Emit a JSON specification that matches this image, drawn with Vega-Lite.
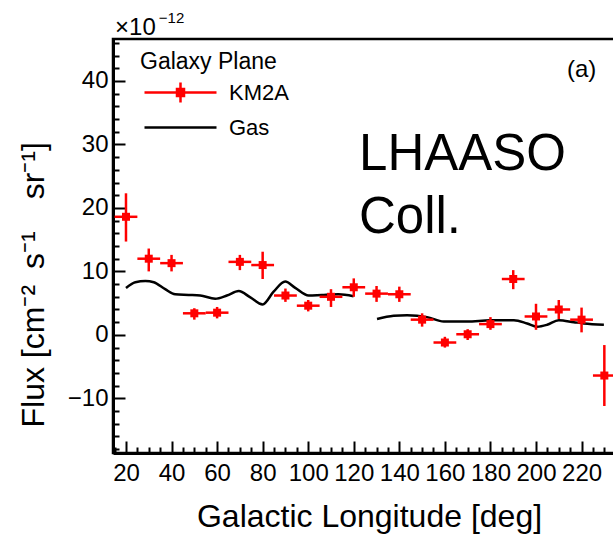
{
  "$schema": "https://vega.github.io/schema/vega-lite/v6.json",
  "width": 502,
  "height": 414,
  "autosize": {"type": "none"},
  "padding": {"left": 113, "top": 39, "right": 0, "bottom": 83},
  "background": "white",
  "config": {
    "font": "Liberation Sans",
    "view": {"stroke": "black", "strokeWidth": 2.5},
    "axis": {"grid": false, "domainColor": "black", "domainWidth": 3, "tickColor": "black", "tickWidth": 2, "labelColor": "black", "labelFontSize": 24, "labelFont": "Liberation Sans", "titleColor": "black", "titleFontWeight": "normal", "titleFont": "Liberation Sans", "labelOverlap": false, "labelFlush": false}
  },
  "resolve": {"axis": {"x": "independent", "y": "independent"}},
  "datasets": {
    "km2a": [
      {"s": "KM2A", "l": 20, "lo": 15, "hi": 25, "f": 18.6, "flo": 14.7, "fhi": 22.3},
      {"s": "KM2A", "l": 30, "lo": 25, "hi": 35, "f": 12.0, "flo": 10.0, "fhi": 13.6},
      {"s": "KM2A", "l": 40, "lo": 35, "hi": 45, "f": 11.3, "flo": 10.0, "fhi": 12.6},
      {"s": "KM2A", "l": 50, "lo": 45, "hi": 55, "f": 3.4, "flo": 2.4, "fhi": 4.2},
      {"s": "KM2A", "l": 60, "lo": 55, "hi": 65, "f": 3.5, "flo": 2.6, "fhi": 4.4},
      {"s": "KM2A", "l": 70, "lo": 65, "hi": 75, "f": 11.5, "flo": 10.2, "fhi": 12.6},
      {"s": "KM2A", "l": 80, "lo": 75, "hi": 85, "f": 11.0, "flo": 8.8, "fhi": 13.1},
      {"s": "KM2A", "l": 90, "lo": 85, "hi": 95, "f": 6.2, "flo": 5.2, "fhi": 7.3},
      {"s": "KM2A", "l": 100, "lo": 95, "hi": 105, "f": 4.6, "flo": 3.7, "fhi": 5.5},
      {"s": "KM2A", "l": 110, "lo": 105, "hi": 115, "f": 6.0, "flo": 4.4, "fhi": 7.2},
      {"s": "KM2A", "l": 120, "lo": 115, "hi": 125, "f": 7.5, "flo": 6.0, "fhi": 8.9},
      {"s": "KM2A", "l": 130, "lo": 125, "hi": 135, "f": 6.5, "flo": 5.2, "fhi": 7.7},
      {"s": "KM2A", "l": 140, "lo": 135, "hi": 145, "f": 6.4, "flo": 5.2, "fhi": 7.6},
      {"s": "KM2A", "l": 150, "lo": 145, "hi": 155, "f": 2.4, "flo": 1.3, "fhi": 3.4},
      {"s": "KM2A", "l": 160, "lo": 155, "hi": 165, "f": -1.2, "flo": -2.0, "fhi": -0.3},
      {"s": "KM2A", "l": 170, "lo": 165, "hi": 175, "f": 0.1, "flo": -0.8, "fhi": 0.9},
      {"s": "KM2A", "l": 180, "lo": 175, "hi": 185, "f": 1.7, "flo": 0.8, "fhi": 2.8},
      {"s": "KM2A", "l": 190, "lo": 185, "hi": 195, "f": 8.8, "flo": 7.2, "fhi": 10.2},
      {"s": "KM2A", "l": 200, "lo": 195, "hi": 205, "f": 2.9, "flo": 0.8, "fhi": 4.9},
      {"s": "KM2A", "l": 210, "lo": 205, "hi": 215, "f": 4.0, "flo": 2.5, "fhi": 5.5},
      {"s": "KM2A", "l": 220, "lo": 215, "hi": 225, "f": 2.4, "flo": 0.4, "fhi": 4.3},
      {"s": "KM2A", "l": 230, "lo": 225, "hi": 235, "f": -6.4, "flo": -11.2, "fhi": -1.6}
    ],
    "gas": [
      {"s": "Gas", "seg": 1, "l": 20.0, "f": 7.4},
      {"s": "Gas", "seg": 1, "l": 24.1, "f": 8.3},
      {"s": "Gas", "seg": 1, "l": 28.5, "f": 8.5},
      {"s": "Gas", "seg": 1, "l": 32.2, "f": 8.3},
      {"s": "Gas", "seg": 1, "l": 37.2, "f": 7.2},
      {"s": "Gas", "seg": 1, "l": 41.6, "f": 6.4},
      {"s": "Gas", "seg": 1, "l": 47.5, "f": 6.3},
      {"s": "Gas", "seg": 1, "l": 52.6, "f": 6.2},
      {"s": "Gas", "seg": 1, "l": 59.2, "f": 5.7},
      {"s": "Gas", "seg": 1, "l": 64.3, "f": 6.2},
      {"s": "Gas", "seg": 1, "l": 69.5, "f": 6.9},
      {"s": "Gas", "seg": 1, "l": 74.6, "f": 5.9},
      {"s": "Gas", "seg": 1, "l": 80.0, "f": 4.8},
      {"s": "Gas", "seg": 1, "l": 84.8, "f": 6.8},
      {"s": "Gas", "seg": 1, "l": 89.9, "f": 8.4},
      {"s": "Gas", "seg": 1, "l": 94.3, "f": 7.4},
      {"s": "Gas", "seg": 1, "l": 100.2, "f": 6.2},
      {"s": "Gas", "seg": 1, "l": 106.0, "f": 6.3},
      {"s": "Gas", "seg": 1, "l": 113.3, "f": 6.4},
      {"s": "Gas", "seg": 1, "l": 119.9, "f": 6.1},
      {"s": "Gas", "seg": 2, "l": 130.2, "f": 2.5},
      {"s": "Gas", "seg": 2, "l": 137.5, "f": 3.0},
      {"s": "Gas", "seg": 2, "l": 143.4, "f": 3.1},
      {"s": "Gas", "seg": 2, "l": 152.2, "f": 2.8},
      {"s": "Gas", "seg": 2, "l": 159.5, "f": 2.1},
      {"s": "Gas", "seg": 2, "l": 169.8, "f": 2.1},
      {"s": "Gas", "seg": 2, "l": 180.0, "f": 2.3},
      {"s": "Gas", "seg": 2, "l": 190.3, "f": 2.3},
      {"s": "Gas", "seg": 2, "l": 196.1, "f": 1.8},
      {"s": "Gas", "seg": 2, "l": 200.5, "f": 1.3},
      {"s": "Gas", "seg": 2, "l": 204.9, "f": 1.6},
      {"s": "Gas", "seg": 2, "l": 210.0, "f": 2.3},
      {"s": "Gas", "seg": 2, "l": 216.6, "f": 2.0},
      {"s": "Gas", "seg": 2, "l": 221.0, "f": 1.8},
      {"s": "Gas", "seg": 2, "l": 229.8, "f": 1.6}
    ],
    "big": [
      {"t": "LHAASO", "l": 122.3, "f": 26.0},
      {"t": "Coll.", "l": 122.3, "f": 16.0}
    ],
    "panel": [
      {"t": "(a)", "l": 213.6, "f": 40.6}
    ],
    "expbase": [
      {"t": "×10", "l": 15.2, "f": 47.2}
    ],
    "expsup": [
      {"t": "−12", "l": 34.4, "f": 49.1}
    ]
  },
  "layer": [
    {
      "data": {"name": "gas"},
      "mark": {"type": "line", "interpolate": "monotone", "strokeWidth": 2.5, "clip": true},
      "encoding": {
        "x": {
          "field": "l", "type": "quantitative",
          "scale": {"domain": [14.3, 234.68], "nice": false, "zero": false},
          "axis": {
            "orient": "bottom",
            "title": "Galactic Longitude [deg]",
            "titleFontSize": 32,
            "titleX": 256, "titleY": 73, "titleAlign": "center", "titleBaseline": "alphabetic",
            "values": [20, 40, 60, 80, 100, 120, 140, 160, 180, 200, 220],
            "labelPadding": 20,
            "tickSize": -12
          }
        },
        "y": {
          "field": "f", "type": "quantitative",
          "scale": {"domain": [-18.6, 46.6], "nice": false, "zero": false},
          "axis": {
            "orient": "left",
            "title": "Flux [cm⁻²\u2002s⁻¹\u2003sr⁻¹]",
            "titleFontSize": 32,
            "titleX": -70, "titleY": 388, "titleAngle": 270, "titleAlign": "left", "titleBaseline": "alphabetic",
            "values": [-10, 0, 10, 20, 30, 40],
            "labelPadding": 17,
            "tickSize": -12
          }
        },
        "detail": {"field": "seg", "type": "nominal"},
        "color": {
          "field": "s", "type": "nominal",
          "scale": {"domain": ["KM2A", "Gas"], "range": ["#ff0000", "#000000"]},
          "legend": {
            "orient": "none", "legendX": 27, "legendY": 12,
            "title": "Galaxy Plane", "titleFontSize": 23, "titleFontWeight": "normal", "titleColor": "black", "titlePadding": 7,
            "labelFontSize": 22, "labelColor": "black",
            "padding": 0,
            "symbolSize": 400, "symbolOffset": 29, "labelOffset": 37, "rowPadding": 8,
            "symbolStrokeWidth": 2.5,
            "encode": {
              "symbols": {
                "update": {
                  "shape": {"signal": "datum.value === 'KM2A' ? 'M-3.6,0H3.6M0,-1V1M-0.35,-0.35H0.35V0.35H-0.35Z' : 'M-3.6,0H3.6'"},
                  "fill": {"signal": "datum.value === 'KM2A' ? '#ff0000' : 'transparent'"},
                  "strokeWidth": {"value": 2.5},
                  "opacity": {"value": 1}
                }
              }
            }
          }
        }
      }
    },
    {
      "data": {"name": "km2a"},
      "mark": {"type": "rule", "strokeWidth": 2.5, "clip": true},
      "encoding": {
        "x": {
          "field": "lo", "type": "quantitative",
          "axis": {
            "orient": "bottom", "title": null, "labels": false, "domain": false,
            "values": [15,25,30,35,45,50,55,65,70,75,85,90,95,105,110,115,125,130,135,145,150,155,165,170,175,185,190,195,205,210,215,225,230],
            "tickSize": -6
          }
        },
        "x2": {"field": "hi"},
        "y": {
          "field": "f", "type": "quantitative",
          "axis": {
            "orient": "left", "title": null, "labels": false, "domain": false,
            "values": [-18,-16,-14,-12,-8,-6,-4,-2,2,4,6,8,12,14,16,18,22,24,26,28,32,34,36,38,42,44,46],
            "tickSize": -6
          }
        },
        "color": {"field": "s", "type": "nominal"}
      }
    },
    {
      "data": {"name": "km2a"},
      "mark": {"type": "rule", "strokeWidth": 2.5, "clip": true},
      "encoding": {
        "x": {"field": "l", "type": "quantitative", "axis": null},
        "y": {"field": "flo", "type": "quantitative", "axis": null},
        "y2": {"field": "fhi"},
        "color": {"field": "s", "type": "nominal"}
      }
    },
    {
      "data": {"name": "km2a"},
      "mark": {"type": "square", "filled": true, "size": 64, "opacity": 1, "clip": true},
      "encoding": {
        "x": {"field": "l", "type": "quantitative", "axis": null},
        "y": {"field": "f", "type": "quantitative", "axis": null},
        "color": {"field": "s", "type": "nominal"}
      }
    },
    {
      "data": {"name": "big"},
      "mark": {"type": "text", "fontSize": 51, "align": "left", "baseline": "alphabetic", "color": "black", "font": "Liberation Sans"},
      "encoding": {
        "x": {"field": "l", "type": "quantitative", "axis": null},
        "y": {"field": "f", "type": "quantitative", "axis": null},
        "text": {"field": "t"}
      }
    },
    {
      "data": {"name": "panel"},
      "mark": {"type": "text", "fontSize": 24, "align": "left", "baseline": "alphabetic", "color": "black", "font": "Liberation Sans"},
      "encoding": {
        "x": {"field": "l", "type": "quantitative", "axis": null},
        "y": {"field": "f", "type": "quantitative", "axis": null},
        "text": {"field": "t"}
      }
    },
    {
      "data": {"name": "expbase"},
      "mark": {"type": "text", "fontSize": 24, "align": "left", "baseline": "alphabetic", "color": "black", "font": "Liberation Sans"},
      "encoding": {
        "x": {"field": "l", "type": "quantitative", "axis": null},
        "y": {"field": "f", "type": "quantitative", "axis": null},
        "text": {"field": "t"}
      }
    },
    {
      "data": {"name": "expsup"},
      "mark": {"type": "text", "fontSize": 15, "align": "left", "baseline": "alphabetic", "color": "black", "font": "Liberation Sans"},
      "encoding": {
        "x": {"field": "l", "type": "quantitative", "axis": null},
        "y": {"field": "f", "type": "quantitative", "axis": null},
        "text": {"field": "t"}
      }
    }
  ]
}
